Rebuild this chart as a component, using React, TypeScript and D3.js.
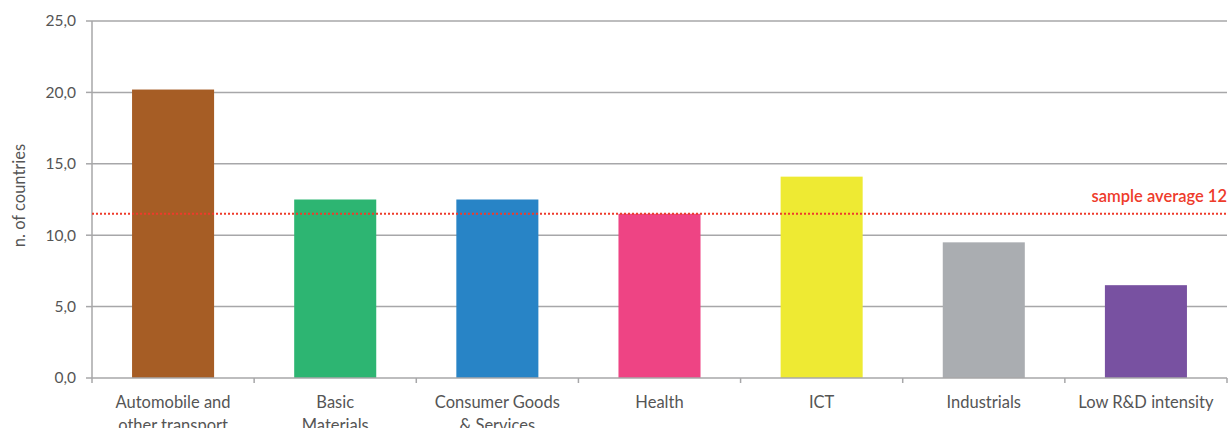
import React from "react";
import * as d3 from "d3";

const categories: string[][] = [
  ["Automobile and", "other transport"],
  ["Basic", "Materials"],
  ["Consumer Goods", "& Services"],
  ["Health"],
  ["ICT"],
  ["Industrials"],
  ["Low R&D intensity"],
];
const values: number[] = [20.2, 12.5, 12.5, 11.5, 14.1, 9.5, 6.5];
const barColors: string[] = ["#a65d25", "#2db572", "#2884c6", "#ee4484", "#eeea33", "#aaadb1", "#7851a1"];
const yTicks: number[] = [0, 5, 10, 15, 20, 25];
const sampleAverage = 11.5;
const averageLabel = "sample average 12";
const yLabel = "n. of countries";

export default function App() {
  const W = 1230, H = 428;
  const left = 92, right = 1227, top = 21, bottom = 378;
  const font = "Lato, 'Open Sans', sans-serif";
  const x = d3.scaleBand<number>().domain(d3.range(categories.length)).range([left, right]).paddingInner(0.494).paddingOuter(0.247);
  const y = d3.scaleLinear().domain([0, 25]).range([bottom, top]);
  const step = x.step();
  const fmt = (v: number) => v.toFixed(1).replace(".", ",");
  return (
    <svg width={W} height={H} style={{ position: "absolute", left: 0, top: 0, background: "#fff" }} fontFamily={font}>
      {yTicks.map((t) => (
        <g key={t}>
          {t > 0 && <line x1={left} x2={right} y1={y(t)} y2={y(t)} stroke="#a7a7a9" strokeWidth={1.5} />}
          <line x1={left - 6} x2={left} y1={y(t)} y2={y(t)} stroke="#a7a7a9" strokeWidth={1.5} />
          <text x={left - 16} y={y(t)} dy="0.35em" textAnchor="end" fontSize={15.5} fill="#555">{fmt(t)}</text>
        </g>
      ))}
      {values.map((v, i) => (
        <rect key={i} x={x(i)} y={y(v)} width={x.bandwidth()} height={bottom - y(v)} fill={barColors[i]} />
      ))}
      <line x1={left} x2={left} y1={top} y2={bottom} stroke="#a7a7a9" strokeWidth={1.5} />
      <line x1={left} x2={right} y1={bottom} y2={bottom} stroke="#a7a7a9" strokeWidth={1.5} />
      {d3.range(categories.length + 1).map((i) => (
        <line key={i} x1={left + i * step} x2={left + i * step} y1={bottom} y2={bottom + 5} stroke="#a7a7a9" strokeWidth={1.5} />
      ))}
      {categories.map((lines, i) => (
        <text key={i} x={(x(i) as number) + x.bandwidth() / 2} y={408} textAnchor="middle" fontSize={16.5} fill="#555">
          {lines.map((l, j) => (
            <tspan key={j} x={(x(i) as number) + x.bandwidth() / 2} dy={j === 0 ? 0 : 22.5}>{l}</tspan>
          ))}
        </text>
      ))}
      <line x1={left} x2={right} y1={y(sampleAverage)} y2={y(sampleAverage)} stroke="#ee3b2b" strokeWidth={2} strokeDasharray="2,2" />
      <text x={right} y={y(sampleAverage) - 11.5} textAnchor="end" fontSize={16.5} fontWeight={600} fill="#ee3b2b">{averageLabel}</text>
      <text transform={`translate(25,${(top + bottom) / 2 - 4}) rotate(-90)`} textAnchor="middle" fontSize={16.5} fill="#555">{yLabel}</text>
    </svg>
  );
}
